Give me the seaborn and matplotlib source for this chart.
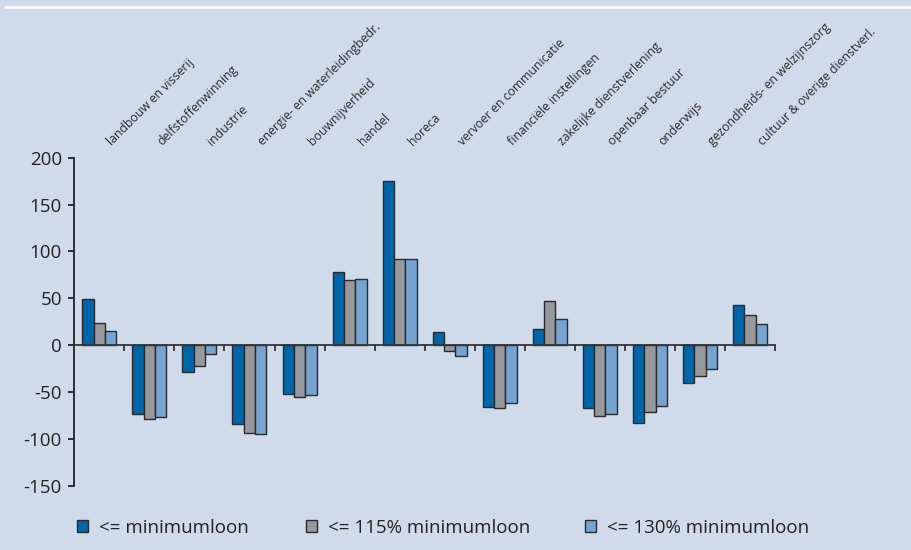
import matplotlib
matplotlib.use("Agg")
import matplotlib.pyplot as plt
import matplotlib.patches as mpatches
import seaborn as sns
import pandas as pd

categories = [
    "landbouw en visserij", "delfstoffenwinning", "industrie",
    "energie- en waterleidingbedr.", "bouwnijverheid", "handel", "horeca",
    "vervoer en communicatie", "financiële instellingen",
    "zakelijke dienstverlening", "openbaar bestuur", "onderwijs",
    "gezondheids- en welzijnszorg", "cultuur & overige dienstverl.",
]
series = ["<= minimumloon", "<= 115% minimumloon", "<= 130% minimumloon"]
vals_min = [49, -73, -29, -84, -52, 78, 175, 14, -66, 17, -67, -83, -40, 43]
vals_115 = [24, -79, -22, -94, -55, 69, 92, -6, -67, 47, -76, -71, -33, 32]
vals_130 = [15, -77, -9, -95, -53, 71, 92, -12, -62, 28, -74, -65, -26, 23]
yticks = [-150, -100, -50, 0, 50, 100, 150, 200]

colors = ["#0066AA", "#97989C", "#76A3D0"]
bg = "#CFDAEB"

df = pd.DataFrame({
    "cat": categories * 3,
    "serie": [series[0]] * 14 + [series[1]] * 14 + [series[2]] * 14,
    "val": vals_min + vals_115 + vals_130,
})

sns.set_theme(style="white")
plt.rcParams["font.family"] = ["Open Sans", "DejaVu Sans"]
plt.rcParams["axes.unicode_minus"] = False

fig = plt.figure(figsize=(9.12, 5.5), dpi=100, facecolor=bg)
ax = fig.add_axes([74.3 / 912, 64.3 / 550, (775 - 74.3) / 912, (485.7 - 157.7) / 550])
ax.set_facecolor(bg)

sns.barplot(data=df, x="cat", y="val", hue="serie", order=categories,
            hue_order=series, palette=colors, width=0.68, gap=0,
            edgecolor="#2a2a2a", linewidth=1.0, saturation=1, ax=ax,
            legend=False, errorbar=None)

ax.set_xlim(-0.5, 13.5)
ax.set_ylim(-150, 200)
ax.set_yticks(yticks)
ax.set_yticklabels([str(v) for v in yticks])
ax.set_xlabel("")
ax.set_ylabel("")

for s in ["top", "right"]:
    ax.spines[s].set_visible(False)
ax.spines["left"].set_color("#222222")
ax.spines["left"].set_linewidth(1.3)
ax.spines["bottom"].set_position(("data", 0))
ax.spines["bottom"].set_color("#333333")
ax.spines["bottom"].set_linewidth(1.3)
ax.spines["bottom"].set_zorder(5)

ax.set_xticks([i + 0.5 for i in range(14)])
ax.set_xticklabels([])
ax.tick_params(axis="x", direction="out", length=4, width=1.3, color="#333333", bottom=True)
ax.tick_params(axis="y", direction="out", length=4, width=1.3, color="#222222",
               left=True, labelsize=13.5, labelcolor="#222222", pad=5)

for i, c in enumerate(categories):
    ax.text(i + 0.26, 213, c, rotation=45, rotation_mode="anchor",
            ha="left", va="baseline", fontsize=8.8, color="#2a2a2a", clip_on=False)

# top white line
fig.add_artist(plt.Line2D([5 / 912, 1.0], [1 - 7 / 550, 1 - 7 / 550],
                          color="white", linewidth=1.8, transform=fig.transFigure))

legend_x = [77, 306, 585]
for sname, col, lx in zip(series, colors, legend_x):
    h = mpatches.Patch(facecolor=col, edgecolor="#2a2a2a", linewidth=1.0, label=sname)
    fig.legend(handles=[h], loc="center left", bbox_to_anchor=(lx / 912, 1 - 528 / 550),
               frameon=False, fontsize=13.5, handlelength=0.6, handleheight=0.6,
               handletextpad=0.55, borderpad=0, borderaxespad=0, labelcolor="#222222")

fig.savefig("out.png", dpi=100, facecolor=bg)
